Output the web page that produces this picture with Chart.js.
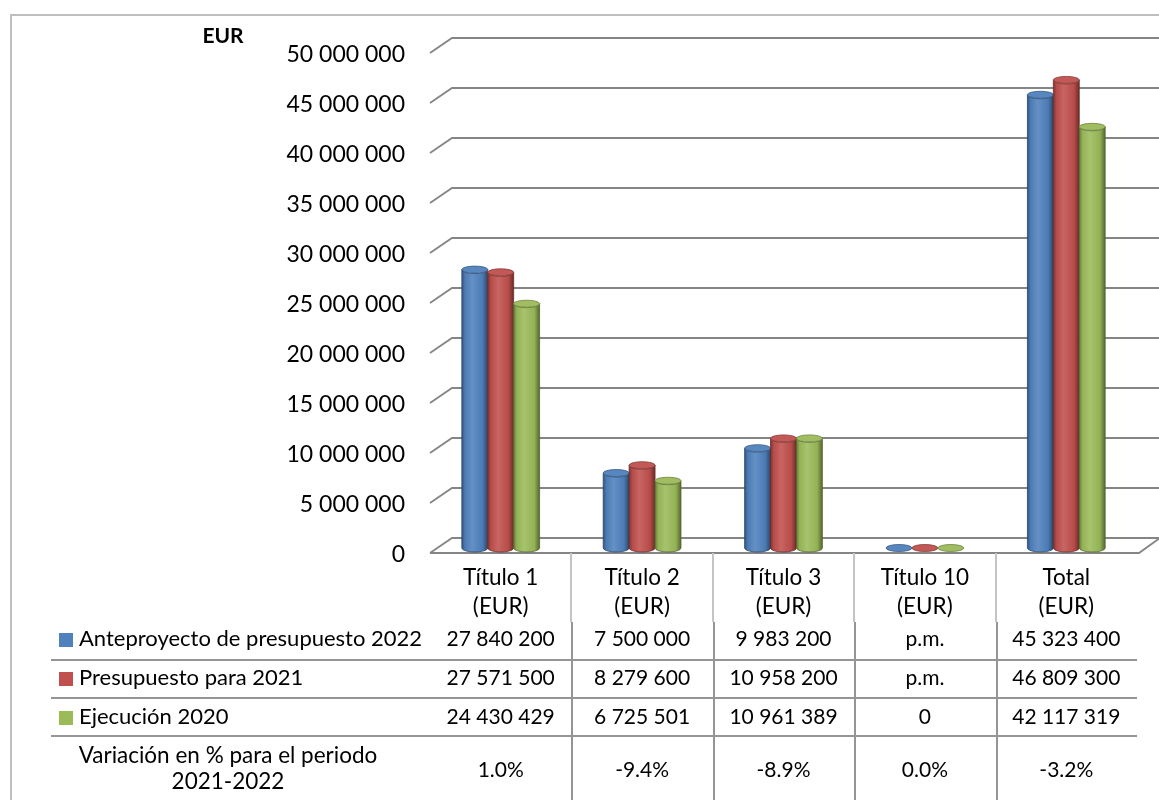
<!DOCTYPE html>
<html>
<head>
<meta charset="utf-8">
<script src="https://cdn.jsdelivr.net/npm/chart.js@4.4.1/dist/chart.umd.min.js"></script>
<style>
  html, body { margin: 0; padding: 0; background: #fff; }
  canvas { display: block; }
</style>
</head>
<body>
<canvas id="budgetChart" width="1159" height="800"></canvas>
<script>
// ---------- data ----------
const categories = ["Título 1", "Título 2", "Título 3", "Título 10", "Total"];
const ante2022 = [27840200, 7500000, 9983200, null, 45323400];   // null = p.m.
const pres2021 = [27571500, 8279600, 10958200, null, 46809300];
const ejec2020 = [24430429, 6725501, 10961389, 0, 42117319];
const variacion = [1.0, -9.4, -8.9, 0.0, -3.2];

const seriesNames = ["Anteproyecto de presupuesto 2022", "Presupuesto para 2021", "Ejecución 2020"];
const seriesColors = ["#4F81BD", "#C0504D", "#9BBB59"];
const yMax = 50000000;
const yStep = 5000000;

const FONT = "Lato, 'Open Sans', sans-serif";

function fmt(n) {
    if (n === null) return "p.m.";
    return String(n).replace(/\B(?=(\d{3})+(?!\d))/g, " ");
}

function mix(hex, t) {
    // t > 0 -> toward white, t < 0 -> toward black
    const n = parseInt(hex.slice(1), 16);
    let r = n >> 16, g = (n >> 8) & 255, b = n & 255;
    const target = t > 0 ? 255 : 0, k = Math.abs(t);
    r = Math.round(r + (target - r) * k);
    g = Math.round(g + (target - g) * k);
    b = Math.round(b + (target - b) * k);
    return `rgb(${r},${g},${b})`;
}

function drawCylinder(ctx, x, top, base, w, color) {
    const rx = w / 2, ry = 4, l = x - rx;
    if (base - top > 0.5) {
        const g = ctx.createLinearGradient(l, 0, l + w, 0);
        g.addColorStop(0, mix(color, -0.35));
        g.addColorStop(0.12, mix(color, -0.05));
        g.addColorStop(0.4, mix(color, 0.12));
        g.addColorStop(0.8, mix(color, -0.05));
        g.addColorStop(1, mix(color, -0.45));
        ctx.beginPath();
        ctx.moveTo(l, top);
        ctx.lineTo(l, base);
        ctx.ellipse(x, base, rx, ry, 0, Math.PI, 0, true);
        ctx.lineTo(l + w, top);
        ctx.ellipse(x, top, rx, ry, 0, 0, Math.PI, false);
        ctx.closePath();
        ctx.fillStyle = g;
        ctx.fill();
        ctx.strokeStyle = mix(color, -0.45);
        ctx.lineWidth = 0.8;
        ctx.stroke();
    }
    // top cap
    ctx.beginPath();
    ctx.ellipse(x, top, rx, ry - 0.5, 0, 0, Math.PI * 2);
    ctx.fillStyle = mix(color, 0.05);
    ctx.fill();
    ctx.strokeStyle = mix(color, -0.3);
    ctx.lineWidth = 0.8;
    ctx.stroke();
}

// ---------- plugins ----------
const backdrop = {
    id: "backdrop",
    beforeDatasetsDraw(chart) {
        const { ctx, chartArea, scales: { y } } = chart;
        ctx.save();

        // outer frame
        ctx.strokeStyle = "#BFBFBF";
        ctx.lineWidth = 2;
        ctx.strokeRect(11, 15, 1170, 800);

        // unit label
        ctx.fillStyle = "#000";
        ctx.font = "bold 21px " + FONT;
        ctx.textAlign = "center";
        ctx.textBaseline = "middle";
        ctx.fillText("EUR", 223, 36);

        const left = chartArea.left;
        const ticks = [];
        for (let v = 0; v <= yMax; v += yStep) ticks.push(v);

        // gridlines (3D back wall)
        ctx.strokeStyle = "#858585";
        ctx.lineWidth = 1.8;
        ticks.forEach(v => {
            const py = y.getPixelForValue(v);
            ctx.beginPath();
            ctx.moveTo(left, py + 5);
            ctx.lineTo(left + 22, py - 10);
            ctx.lineTo(1160, py - 10);
            ctx.stroke();
        });

        // floor front edge
        const p0 = y.getPixelForValue(0);
        ctx.beginPath();
        ctx.moveTo(left, p0 + 5);
        ctx.lineTo(chartArea.right + 2, p0 + 5);
        ctx.lineTo(chartArea.right + 23, p0 - 10);
        ctx.stroke();

        // tick labels
        ctx.font = "23px " + FONT;
        ctx.textAlign = "right";
        ctx.fillStyle = "#000";
        ticks.forEach(v => {
            ctx.fillText(fmt(v), 405, y.getPixelForValue(v) + 7);
        });

        ctx.restore();
    },
    afterDatasetsDraw(chart) {
        const { ctx } = chart;
        ctx.save();
        chart.data.datasets.forEach((ds, di) => {
            const meta = chart.getDatasetMeta(di);
            meta.data.forEach(bar => {
                const p = bar.getProps(["x", "y", "base", "width"], true);
                drawCylinder(ctx, p.x, p.y, p.base, p.width, seriesColors[di]);
            });
        });
        ctx.restore();
    }
};

const dataTable = {
    id: "dataTable",
    afterDraw(chart) {
        const { ctx, chartArea, scales: { x } } = chart;
        const colW = (chartArea.right - chartArea.left) / categories.length;
        const top = chartArea.bottom + 5;
        const headerBottom = 622;
        const rowLines = [660, 698, 736];
        const rowY = [639, 678, 717];
        ctx.save();

        // vertical separators
        for (let i = 1; i < categories.length; i++) {
            const bx = Math.round(chartArea.left + i * colW);
            ctx.lineWidth = 2;
            ctx.strokeStyle = "#C4C4C4";
            ctx.beginPath();
            ctx.moveTo(bx, top);
            ctx.lineTo(bx, headerBottom);
            ctx.stroke();
            ctx.strokeStyle = "#959595";
            ctx.beginPath();
            ctx.moveTo(bx + 1, headerBottom);
            ctx.lineTo(bx + 1, 800);
            ctx.stroke();
        }
        // horizontal separators
        ctx.strokeStyle = "#959595";
        ctx.lineWidth = 2;
        rowLines.forEach(ly => {
            ctx.beginPath();
            ctx.moveTo(51, ly);
            ctx.lineTo(chartArea.right, ly);
            ctx.stroke();
        });

        ctx.fillStyle = "#000";
        ctx.textBaseline = "middle";
        const labelFont = "22.5px " + FONT;
        const legendFont = "22px " + FONT;
        const numFont = "21px " + FONT;
        ctx.textAlign = "center";

        // header
        ctx.font = labelFont;
        categories.forEach((c, i) => {
            const cx = x.getPixelForValue(i);
            ctx.fillText(c, cx, 578);
            ctx.fillText("(EUR)", cx, 607);
        });

        // series rows
        [ante2022, pres2021, ejec2020].forEach((row, r) => {
            ctx.fillStyle = seriesColors[r];
            ctx.fillRect(59, rowY[r] - 6, 14, 14);
            ctx.fillStyle = "#000";
            ctx.textAlign = "left";
            ctx.font = legendFont;
            ctx.fillText(seriesNames[r], 79, rowY[r]);
            ctx.textAlign = "center";
            ctx.font = numFont;
            row.forEach((v, i) => ctx.fillText(fmt(v), x.getPixelForValue(i), rowY[r]));
        });

        // variation row
        ctx.font = labelFont;
        ctx.fillText("Variación en % para el periodo", 228, 756);
        ctx.fillText("2021-2022", 228, 782);
        ctx.font = numFont;
        variacion.forEach((v, i) => ctx.fillText(v.toFixed(1) + "%", x.getPixelForValue(i), 770));

        ctx.restore();
    }
};

// ---------- chart ----------
new Chart(document.getElementById("budgetChart"), {
    type: "bar",
    data: {
        labels: categories,
        datasets: [ante2022, pres2021, ejec2020].map((row, i) => ({
            label: seriesNames[i],
            data: row.map(v => v ?? 0),
            backgroundColor: "rgba(0,0,0,0)",
            borderWidth: 0,
            barPercentage: 1.0,
            categoryPercentage: 0.55
        }))
    },
    options: {
        responsive: false,
        animation: false,
        layout: { padding: { left: 430, right: 22, top: 48, bottom: 252 } },
        plugins: { legend: { display: false }, tooltip: { enabled: false } },
        scales: {
            x: { display: false },
            y: { display: false, min: 0, max: yMax, ticks: { stepSize: yStep } }
        }
    },
    plugins: [backdrop, dataTable]
});
</script>
</body>
</html>
